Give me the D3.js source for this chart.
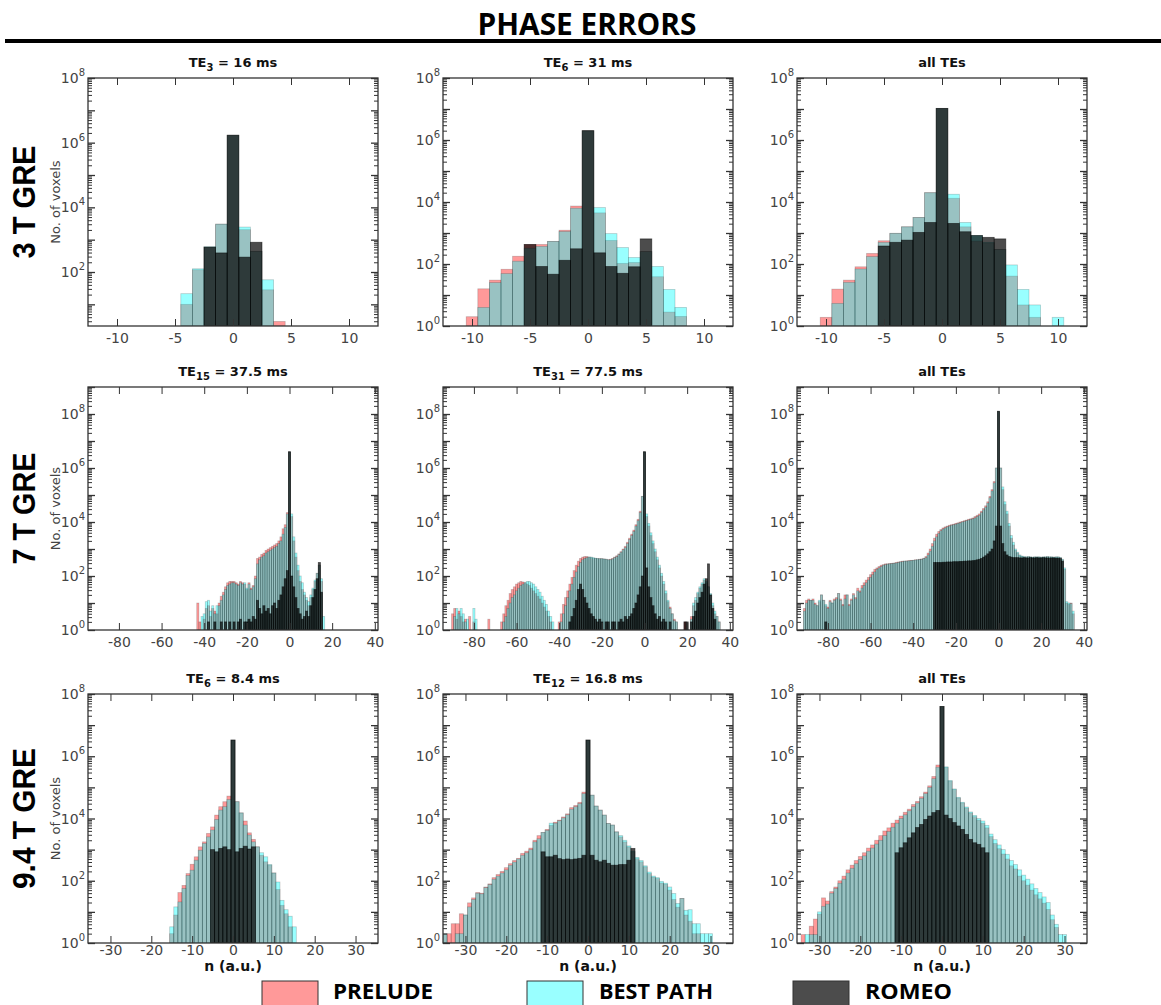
<!DOCTYPE html>
<html><head><meta charset="utf-8">
<script src="https://cdn.jsdelivr.net/npm/d3@7"></script>
<style>body{margin:0;background:#fff}svg{display:block}</style>
</head><body>
<svg id="chart" width="1161" height="1005"></svg>
<script>
// ---------------- DATA (values are log10 of the number of voxels; null = empty bin) ----------------
const seriesNames = ["PRELUDE", "BEST PATH", "ROMEO"];
const rowLabels = ["3 T GRE", "7 T GRE", "9.4 T GRE"];
const yAxisLabel = "No. of voxels";
const xAxisLabel = "n (a.u.)";
const mainTitle = "PHASE ERRORS";

const xDomain_3T = [-12.5, 12.5];
const xDomain_7T = [-94.5, 41.5];
const xDomain_94T = [-35.5, 35.5];
const xTicks_3T = [-10, -5, 0, 5, 10];
const xTicks_7T = [-80, -60, -40, -20, 0, 20, 40];
const xTicks_94T = [-30, -20, -10, 0, 10, 20, 30];
const yTickExponents = [0, 2, 4, 6, 8];

// ---- 3 T, TE3 = 16 ms (bins -4..4)
const title_3T_a = ["TE", "3", " = 16 ms"];
const start_3T_a = -4;
const prelude_3T_a = [1.0, 2.07, 2.77, 3.48, 6.23, 3.31, 2.64, 1.45, 0.47];
const best_3T_a    = [1.33, 2.1, 2.78, 3.48, 6.23, 3.39, 2.64, 1.76, null];
const romeo_3T_a   = [null, null, 2.77, 2.59, 6.23, 2.46, 2.92, null, null];

// ---- 3 T, TE6 = 31 ms (bins -10..8)
const title_3T_b = ["TE", "6", " = 31 ms"];
const start_3T_b = -10;
const prelude_3T_b = [0.3, 1.2, 1.48, 1.83, 2.25, 2.63, 2.63, 2.73, 3.09, 3.87, 6.3, 3.65, 2.76, 2.02, 2.05, 2.4, 1.59, 0.45, 0.31];
const best_3T_b    = [null, 0.6, 1.4, 1.69, 2.09, 2.51, 2.57, 2.73, 3.05, 3.8, 6.3, 3.82, 2.98, 2.53, 2.21, 2.4, 1.92, 1.18, 0.6];
const romeo_3T_b   = [null, null, null, null, null, 2.63, 1.92, 1.67, 2.12, 2.49, 6.3, 2.36, 1.92, 1.7, 1.91, 2.81, null, null, null];

// ---- 3 T, all TEs (bins -10..10)
const title_3T_c = ["all TEs"];
const start_3T_c = -10;
const prelude_3T_c = [0.28, 1.19, 1.48, 1.91, 2.34, 2.75, 2.99, 3.2, 3.5, 4.3, 7.02, 4.12, 3.2, 2.74, 2.68, 2.47, 1.61, 0.68, 0.28, null, null];
const best_3T_c    = [null, 0.73, 1.41, 1.84, 2.24, 2.7, 2.99, 3.2, 3.5, 4.3, 7.02, 4.25, 3.34, 2.92, 2.7, 2.47, 1.97, 1.18, 0.68, null, 0.28];
const romeo_3T_c   = [null, null, null, null, null, 2.58, 2.7, 2.77, 3.02, 3.34, 7.02, 3.31, 3.04, 2.92, 2.86, 2.81, null, null, null, null, null];

// ---- 7 T, TE15 = 37.5 ms (bins -43..16)
const title_7T_a = ["TE", "15", " = 37.5 ms"];
const start_7T_a = -43;
const prelude_7T_a = [1.0,0.3,null,0.4,0.8,0.9,0.5,0.8,0.7,0.6,
  1.0,1.25,1.4,1.6,1.75,1.8,1.8,1.8,1.75,1.7,
  1.8,1.75,1.7,1.5,1.75,1.55,1.65,2.0,2.65,2.7,
  2.8,2.85,2.95,3.0,3.05,3.1,3.15,3.2,3.3,3.45,
  3.75,3.9,4.35,6.6,4.2,3.3,2.7,2.2,1.8,1.5,
  1.3,1.1,0.9,1.2,1.5,1.8,2.1,2.4,1.8,null];
const best_7T_a = [null,null,0.5,0.6,1.05,1.1,0.7,0.9,0.6,0.9,
  0.9,1.1,1.3,1.5,1.65,1.7,1.75,1.75,1.7,1.65,
  1.75,1.7,1.75,1.55,1.7,1.5,1.6,1.9,2.45,2.6,
  2.7,2.75,2.85,2.9,2.95,3.0,3.05,3.1,3.2,3.3,
  3.55,3.8,4.3,6.6,4.3,3.45,2.85,2.4,2.0,1.75,
  1.4,1.2,1.05,1.3,1.55,1.85,2.1,2.4,1.9,0.5];
const romeo_7T_a = [null,null,null,null,null,0.3,null,null,0.3,null,
  null,0.3,null,0.3,null,0.3,null,0.3,null,0.3,
  0.4,null,0.3,0.3,0.4,0.3,0.5,0.4,1.1,0.8,
  0.6,0.9,0.7,0.8,0.6,0.9,1.0,0.8,1.1,1.3,
  1.6,1.9,2.2,6.6,2.0,1.6,1.2,0.8,0.6,0.4,
  0.5,0.7,0.5,0.9,1.2,1.5,1.9,2.5,1.4,null];

// ---- 7 T, TE31 = 77.5 ms (bins -90..35)
const title_7T_b = ["TE", "31", " = 77.5 ms"];
const start_7T_b = -90;
const prelude_7T_b = [0.6,0.8,0.4,0.7,0.5,0.3,0.4,null,0.5,null,
  0.3,null,null,null,null,null,null,0.4,null,null,
  null,null,null,0.3,0.6,0.9,1.1,1.35,1.5,1.6,
  1.7,1.75,1.8,1.78,1.75,1.7,1.65,1.55,1.45,1.35,
  1.25,1.15,1.0,0.85,0.7,0.5,0.3,null,null,null,
  0.3,0.6,0.95,1.2,1.45,1.7,1.95,2.2,2.4,2.55,
  2.65,2.7,2.72,2.72,2.7,2.68,2.65,2.65,2.64,2.64,
  2.64,2.63,2.62,2.6,2.62,2.65,2.7,2.75,2.82,2.9,
  3.0,3.1,3.25,3.4,3.55,3.7,3.9,4.1,4.4,4.95,
  6.6,4.2,3.85,3.5,3.2,2.9,2.6,2.3,2.0,1.7,
  1.35,1.05,0.85,0.6,0.4,0.3,null,null,null,0.3,
  null,null,0.5,0.9,1.1,1.35,1.55,1.7,1.85,1.75,
  1.6,1.3,0.9,0.6,0.5,0.3];
const best_7T_b = [null,0.5,0.8,0.6,0.8,0.6,0.3,0.4,null,null,
  0.8,0.4,null,null,null,null,null,null,null,null,
  null,null,null,null,0.3,0.5,0.8,1.0,1.2,1.3,
  1.45,1.55,1.65,1.7,1.75,1.8,1.8,1.75,1.7,1.6,
  1.5,1.4,1.25,1.1,0.95,0.7,0.5,0.3,null,null,
  null,0.3,0.6,0.9,1.2,1.45,1.7,1.95,2.15,2.35,
  2.5,2.6,2.65,2.68,2.7,2.7,2.68,2.66,2.65,2.64,
  2.64,2.63,2.62,2.6,2.6,2.63,2.68,2.72,2.8,2.88,
  2.97,3.05,3.2,3.35,3.5,3.65,3.85,4.05,4.35,4.95,
  6.6,4.3,3.95,3.6,3.3,3.0,2.7,2.4,2.1,1.8,
  1.45,1.1,0.8,0.6,0.35,0.3,null,null,null,null,
  null,null,0.4,1.0,1.2,1.4,1.6,1.75,1.9,1.8,
  1.6,1.35,1.0,0.7,0.5,0.3];
const romeo_7T_b = [null,null,null,null,null,null,null,null,null,null,
  null,null,null,null,null,null,null,null,null,null,
  null,null,null,null,null,null,null,null,null,null,
  null,null,null,null,null,null,null,null,null,null,
  null,null,null,null,null,null,null,null,null,null,
  null,null,null,null,null,0.3,0.5,0.8,1.1,1.5,
  1.7,1.5,1.2,1.0,0.8,0.6,0.5,0.4,0.3,0.4,
  0.3,null,0.3,0.3,null,0.3,0.3,null,0.3,0.4,
  0.3,0.5,0.4,0.5,0.6,0.8,1.0,1.3,1.6,2.0,
  6.6,2.3,1.6,1.2,0.9,0.6,0.4,0.5,0.3,0.4,
  0.3,null,0.3,null,null,null,null,null,null,0.3,
  0.3,null,0.3,0.5,0.7,1.0,1.2,1.4,1.7,1.9,
  2.45,1.3,0.8,0.4,null,null];

// ---- 7 T, all TEs (bins -91..35)
const title_7T_c = ["all TEs"];
const start_7T_c = -91;
const prelude_7T_c = [0.8,1.1,1.15,1.1,1.15,1.0,0.9,1.05,1.3,1.1,
  0.9,0.85,1.1,1.0,1.15,1.2,1.35,1.15,0.95,1.3,
  1.3,0.95,1.15,1.35,1.2,1.55,1.45,1.65,1.75,1.85,
  1.95,2.05,2.15,2.25,2.3,2.35,2.4,2.42,2.45,2.45,
  2.46,2.47,2.48,2.5,2.52,2.53,2.55,2.55,2.56,2.57,
  2.58,2.58,2.6,2.6,2.62,2.63,2.66,2.72,2.85,3.0,
  3.2,3.4,3.55,3.65,3.72,3.78,3.82,3.85,3.88,3.9,
  3.92,3.95,3.97,4.0,4.02,4.05,4.07,4.1,4.12,4.15,
  4.2,4.25,4.3,4.4,4.5,4.6,4.75,4.95,5.2,5.5,
  6.0,8.1,6.0,5.2,4.65,4.3,3.85,3.4,3.15,2.95,
  2.85,2.75,2.72,2.7,2.7,2.71,2.7,2.69,2.7,2.7,
  2.7,2.69,2.7,2.7,2.71,2.7,2.7,2.69,2.7,2.7,
  2.68,2.6,2.25,1.0,0.95,1.0,0.6];
const best_7T_c = [0.7,1.0,1.1,1.1,1.1,0.95,0.9,1.1,1.3,1.1,
  0.95,0.8,1.05,1.0,1.1,1.15,1.35,1.1,0.9,1.15,
  1.3,0.9,1.1,1.3,1.15,1.45,1.4,1.55,1.65,1.75,
  1.85,1.95,2.05,2.15,2.25,2.3,2.35,2.4,2.42,2.44,
  2.45,2.46,2.47,2.48,2.5,2.52,2.53,2.55,2.55,2.56,
  2.57,2.58,2.59,2.6,2.61,2.62,2.65,2.68,2.78,2.92,
  3.1,3.3,3.45,3.58,3.68,3.74,3.78,3.82,3.85,3.88,
  3.9,3.92,3.95,3.97,4.0,4.02,4.05,4.07,4.1,4.12,
  4.15,4.2,4.25,4.35,4.45,4.55,4.7,4.9,5.15,5.45,
  6.0,8.1,6.0,5.3,4.75,4.4,3.95,3.5,3.25,3.0,
  2.88,2.78,2.74,2.72,2.71,2.72,2.71,2.7,2.71,2.71,
  2.71,2.7,2.71,2.71,2.72,2.71,2.71,2.7,2.71,2.71,
  2.69,2.62,2.3,1.05,1.0,0.98,0.7];
const romeo_7T_c = [null,null,null,null,null,null,null,null,null,null,
  0.3,null,null,null,null,null,null,null,null,null,
  null,null,null,null,null,null,null,null,null,null,
  null,null,null,null,null,null,null,null,null,null,
  null,null,null,null,null,null,null,null,null,null,
  null,null,null,null,null,null,null,null,null,null,
  null,2.5,2.5,2.5,2.5,2.51,2.51,2.52,2.52,2.52,
  2.53,2.53,2.53,2.54,2.54,2.55,2.55,2.56,2.56,2.57,
  2.58,2.6,2.62,2.65,2.7,2.75,2.82,2.9,3.0,3.3,
  3.85,8.1,3.85,3.2,2.9,2.78,2.72,2.7,2.68,2.68,
  2.68,2.67,2.67,2.68,2.67,2.67,2.68,2.67,2.67,2.68,
  2.67,2.67,2.68,2.67,2.67,2.66,2.67,2.67,2.66,2.66,
  2.65,2.55,null,null,null,null,null];

// ---- 9.4 T, TE6 = 8.4 ms (bins -15..15)
const title_94T_a = ["TE", "6", " = 8.4 ms"];
const start_94T_a = -15;
const prelude_94T_a = [0.3,0.9,1.62,1.85,2.23,2.53,2.77,3.09,3.25,3.52,
  3.73,4.11,4.38,4.54,4.72,6.52,4.54,4.18,3.92,3.54,
  3.33,3.09,2.82,2.61,2.5,2.25,1.72,1.21,0.94,0.52,null];
const best_94T_a = [0.52,1.16,1.32,1.75,2.17,2.34,2.66,2.98,3.2,3.41,
  3.63,3.97,4.27,4.38,4.61,6.52,4.54,4.18,3.79,3.47,
  3.25,3.09,2.9,2.77,2.52,2.25,1.96,1.37,1.07,0.86,0.52];
const romeo_94T_a = [null,null,null,null,null,null,null,null,null,null,
  3.0,2.93,3.04,3.09,3.0,6.52,2.93,3.04,3.11,3.02,
  3.09,null,null,null,null,null,null,null,null,null,null];

// ---- 9.4 T, TE12 = 16.8 ms (bins -35..30)
const title_94T_b = ["TE", "12", " = 16.8 ms"];
const start_94T_b = -35;
const prelude_94T_b = [0.3,0.3,0.62,0.62,0.94,0.9,1.29,1.45,1.62,1.6,
  1.8,1.9,2.1,2.2,2.3,2.42,2.55,2.65,2.72,2.88,
  2.95,3.05,3.3,3.45,3.55,3.65,3.78,3.88,3.95,4.05,
  4.15,4.35,4.42,4.52,4.85,6.52,4.75,4.4,4.27,4.11,
  3.84,3.79,3.57,3.41,3.25,3.09,2.93,2.71,2.61,2.45,
  2.23,2.12,2.07,1.93,1.89,1.7,1.4,1.15,1.43,0.9,
  0.7,0.3,0.3,null,null,null];
const best_94T_b = [0.3,null,null,0.3,0.3,0.9,1.16,1.4,1.6,1.58,
  1.78,1.88,2.05,2.15,2.25,2.35,2.5,2.6,2.7,2.82,
  2.9,3.0,3.25,3.35,3.55,3.62,3.85,3.85,3.93,4.02,
  4.12,4.3,4.38,4.48,4.8,6.52,4.75,4.4,4.27,4.11,
  3.84,3.79,3.57,3.45,3.3,3.12,2.95,2.75,2.65,2.48,
  2.28,2.15,2.1,1.98,1.92,1.8,1.59,1.27,1.43,1.05,
  1.07,0.62,0.62,0.3,0.3,0.3];
const romeo_94T_b = [null,null,null,null,null,null,null,null,null,null,
  null,null,null,null,null,null,null,null,null,null,
  null,null,null,null,2.93,2.77,2.77,2.82,2.71,2.68,
  2.7,2.68,2.7,2.72,2.82,6.52,2.82,2.66,2.61,2.66,
  2.56,2.5,2.5,2.52,2.52,2.66,3.04,null,null,null,
  null,null,null,null,null,null,null,null,null,null,
  null,null,null,null,null,null];

// ---- 9.4 T, all TEs (bins -34..30)
const title_94T_c = ["all TEs"];
const start_94T_c = -34;
const prelude_94T_c = [0.27,null,0.54,0.77,0.93,1.45,1.35,1.65,1.8,2.0,
  2.15,2.35,2.5,2.65,2.78,2.9,3.05,3.15,3.3,3.45,
  3.6,3.7,3.85,3.95,4.08,4.2,4.3,4.45,4.55,4.7,
  4.85,5.05,5.35,5.72,7.6,5.64,5.2,4.93,4.66,4.5,
  4.34,4.18,4.06,3.95,3.85,3.7,3.42,3.2,3.03,2.86,
  2.7,2.48,2.38,2.15,2.0,1.86,1.7,1.55,1.42,1.28,
  1.08,0.75,0.5,null,null];
const best_94T_c = [null,0.27,0.27,0.27,1.0,1.18,1.25,1.6,1.75,1.92,
  2.05,2.25,2.4,2.55,2.68,2.8,2.95,3.05,3.18,3.3,
  3.45,3.58,3.72,3.85,4.0,4.12,4.25,4.38,4.5,4.65,
  4.8,5.0,5.28,5.65,7.6,5.66,5.22,4.95,4.68,4.52,
  4.37,4.21,4.1,4.0,3.92,3.78,3.5,3.32,3.15,3.0,
  2.85,2.65,2.52,2.35,2.18,2.05,1.9,1.75,1.62,1.48,
  1.3,0.9,0.6,0.27,0.27];
const romeo_94T_c = [null,null,null,null,null,null,null,null,null,null,
  null,null,null,null,null,null,null,null,null,null,
  null,null,null,2.9,3.06,3.22,3.38,3.54,3.71,3.81,
  3.97,4.08,4.19,4.26,7.6,4.11,4.0,3.87,3.76,3.65,
  3.49,3.33,3.22,3.17,3.06,2.9,null,null,null,null,
  null,null,null,null,null,null,null,null,null,null,
  null,null,null,null,null];

// ---------------- PANEL TABLE ----------------
const panels = [
  {row:0,col:0,title:title_3T_a,xd:xDomain_3T,xt:xTicks_3T,ye:[0.33,8],start:start_3T_a,s:[prelude_3T_a,best_3T_a,romeo_3T_a]},
  {row:0,col:1,title:title_3T_b,xd:xDomain_3T,xt:xTicks_3T,ye:[0,8],start:start_3T_b,s:[prelude_3T_b,best_3T_b,romeo_3T_b]},
  {row:0,col:2,title:title_3T_c,xd:xDomain_3T,xt:xTicks_3T,ye:[0,8],start:start_3T_c,s:[prelude_3T_c,best_3T_c,romeo_3T_c]},
  {row:1,col:0,title:title_7T_a,xd:xDomain_7T,xt:xTicks_7T,ye:[0,9],start:start_7T_a,s:[prelude_7T_a,best_7T_a,romeo_7T_a]},
  {row:1,col:1,title:title_7T_b,xd:xDomain_7T,xt:xTicks_7T,ye:[0,9],start:start_7T_b,s:[prelude_7T_b,best_7T_b,romeo_7T_b]},
  {row:1,col:2,title:title_7T_c,xd:xDomain_7T,xt:xTicks_7T,ye:[0,9],start:start_7T_c,s:[prelude_7T_c,best_7T_c,romeo_7T_c]},
  {row:2,col:0,title:title_94T_a,xd:xDomain_94T,xt:xTicks_94T,ye:[0,8],start:start_94T_a,s:[prelude_94T_a,best_94T_a,romeo_94T_a]},
  {row:2,col:1,title:title_94T_b,xd:xDomain_94T,xt:xTicks_94T,ye:[0,8],start:start_94T_b,s:[prelude_94T_b,best_94T_b,romeo_94T_b]},
  {row:2,col:2,title:title_94T_c,xd:xDomain_94T,xt:xTicks_94T,ye:[0,8],start:start_94T_c,s:[prelude_94T_c,best_94T_c,romeo_94T_c]}
];

// ---------------- STYLE / LAYOUT ----------------
const colLeft = [88, 443, 797];
const plotW = 290;
const rowTop = [78, 387, 694];
const rowBottom = [326, 630, 943];
const tickPad = [7, 7, 2];
const fills = [
  {fill:"#ff0000", fo:0.4, stroke:"#000", so:0.2},
  {fill:"#00ffff", fo:0.4, stroke:"#000", so:0.2},
  {fill:"#000000", fo:0.7, stroke:"#000", so:0.55}
];
const axisColor = "#333";
const labelColor = "#444";
const tickFont = "DejaVu Sans, Verdana, sans-serif";

const svg = d3.select("#chart");

// Title
svg.append("text").attr("x", 587).attr("y", 35).attr("text-anchor","middle")
  .attr("font-family","Open Sans, sans-serif").attr("font-weight",700).attr("font-size",30)
  .attr("textLength",219).attr("lengthAdjust","spacingAndGlyphs").attr("fill","#000").text(mainTitle);
svg.append("line").attr("x1",5).attr("x2",1161).attr("y1",41).attr("y2",41)
  .attr("stroke","#000").attr("stroke-width",4);

const defs = svg.append("defs");

panels.forEach((p, idx) => {
  const left = colLeft[p.col], right = left + plotW;
  const top = rowTop[p.row], bottom = rowBottom[p.row];
  const x = d3.scaleLinear().domain(p.xd).range([left, right]);
  const y = d3.scaleLog().domain([Math.pow(10,p.ye[0]), Math.pow(10,p.ye[1])]).range([bottom, top]);
  const g = svg.append("g");

  defs.append("clipPath").attr("id","clip"+idx).append("rect")
    .attr("x",left).attr("y",top).attr("width",plotW).attr("height",bottom-top);

  const bars = g.append("g").attr("clip-path","url(#clip"+idx+")");
  p.s.forEach((vals, si) => {
    const st = fills[si];
    const data = vals.map((v,i)=>({n:p.start+i, v})).filter(d=>d.v!==null);
    bars.append("g").selectAll("rect").data(data).enter().append("rect")
      .attr("x", d=>x(d.n-0.5))
      .attr("width", d=>x(d.n+0.5)-x(d.n-0.5))
      .attr("y", d=>y(Math.pow(10,d.v)))
      .attr("height", d=>Math.max(0, bottom - y(Math.pow(10,d.v))))
      .attr("fill", st.fill).attr("fill-opacity", st.fo)
      .attr("stroke", st.stroke).attr("stroke-opacity", st.so).attr("stroke-width", 0.8);
  });

  // ticks
  const majors = [], minors = [];
  for (let e = Math.floor(p.ye[0]); e <= p.ye[1]; e++) {
    const v = Math.pow(10,e);
    if (e >= p.ye[0]) majors.push(v);
    if (e < p.ye[1]) for (let k=2;k<=9;k++){ const m=k*v; if (Math.log10(m)>=p.ye[0]) minors.push(m); }
  }
  const styleAxis = sel => { sel.select(".domain").remove(); sel.selectAll("line").attr("stroke",axisColor); };
  g.append("g").attr("transform",`translate(${left},0)`).call(d3.axisLeft(y).tickValues(majors).tickSize(-7).tickFormat("")).call(styleAxis).selectAll("line").attr("stroke-width",1.3);
  g.append("g").attr("transform",`translate(${left},0)`).call(d3.axisLeft(y).tickValues(minors).tickSize(-4).tickFormat("")).call(styleAxis);
  g.append("g").attr("transform",`translate(${right},0)`).call(d3.axisRight(y).tickValues(majors).tickSize(-7).tickFormat("")).call(styleAxis).selectAll("line").attr("stroke-width",1.3);
  g.append("g").attr("transform",`translate(${right},0)`).call(d3.axisRight(y).tickValues(minors).tickSize(-4).tickFormat("")).call(styleAxis);

  const xb = g.append("g").attr("transform",`translate(0,${bottom})`)
    .call(d3.axisBottom(x).tickValues(p.xt).tickSize(-7).tickPadding(tickPad[p.row]).tickFormat(d=>String(d))).call(styleAxis);
  xb.selectAll("text").attr("font-family",tickFont).attr("font-size",14).attr("fill",labelColor);
  g.append("g").attr("transform",`translate(0,${top})`)
    .call(d3.axisTop(x).tickValues(p.xt).tickSize(-7).tickFormat("")).call(styleAxis);

  // frame
  g.append("rect").attr("x",left).attr("y",top).attr("width",plotW).attr("height",bottom-top)
    .attr("fill","none").attr("stroke",axisColor).attr("stroke-width",1.3);

  // y tick labels 10^k
  yTickExponents.filter(e => e >= p.ye[0] && e <= p.ye[1]).forEach(e => {
    const t = g.append("text").attr("x", left-3).attr("y", y(Math.pow(10,e))+5)
      .attr("text-anchor","end").attr("font-family",tickFont).attr("font-size",14).attr("fill",labelColor);
    t.append("tspan").text("10");
    t.append("tspan").attr("dy",-7).attr("font-size",10).text(String(e));
  });

  // panel title
  const cx = (left+right)/2;
  const tt = g.append("text").attr("x",cx).attr("y",top-11).attr("text-anchor","middle")
    .attr("font-family",tickFont).attr("font-weight","bold").attr("font-size",13).attr("fill","#111");
  tt.append("tspan").text(p.title[0]);
  if (p.title.length > 1) {
    tt.append("tspan").attr("dy",4).attr("font-size",10).text(p.title[1]);
    tt.append("tspan").attr("dy",-4).text(p.title[2]);
  }

  if (p.col === 0) {
    const cy = (top+bottom)/2;
    svg.append("text").attr("transform",`translate(60,${cy}) rotate(-90)`).attr("text-anchor","middle")
      .attr("font-family",tickFont).attr("font-size",13).attr("fill",labelColor).text(yAxisLabel);
    const lens = [113,112,141];
    svg.append("text").attr("transform",`translate(35,${cy}) rotate(-90)`).attr("text-anchor","middle")
      .attr("font-family","Liberation Sans, Arial, sans-serif").attr("font-weight","bold").attr("font-size",32)
      .attr("textLength",lens[p.row]).attr("lengthAdjust","spacingAndGlyphs")
      .attr("fill","#000").text(rowLabels[p.row]);
  }
  if (p.row === 2) {
    svg.append("text").attr("x",cx).attr("y",971).attr("text-anchor","middle")
      .attr("font-family",tickFont).attr("font-weight","bold").attr("font-size",14).attr("fill","#111").text(xAxisLabel);
  }
});

// Legend
const legendSwatchX = [262, 527, 793];
const legendTextX = [333, 599, 865];
const legendTextLen = [100, 114, 87];
seriesNames.forEach((name, i) => {
  svg.append("rect").attr("x",legendSwatchX[i]).attr("y",981).attr("width",56).attr("height",30)
    .attr("fill",fills[i].fill).attr("fill-opacity",fills[i].fo).attr("stroke","#333").attr("stroke-width",1);
  svg.append("text").attr("x",legendTextX[i]).attr("y",999)
    .attr("font-family","Open Sans, sans-serif").attr("font-weight",700).attr("font-size",21)
    .attr("textLength",legendTextLen[i]).attr("lengthAdjust","spacingAndGlyphs").attr("fill","#000").text(name);
});
</script>
</body></html>
